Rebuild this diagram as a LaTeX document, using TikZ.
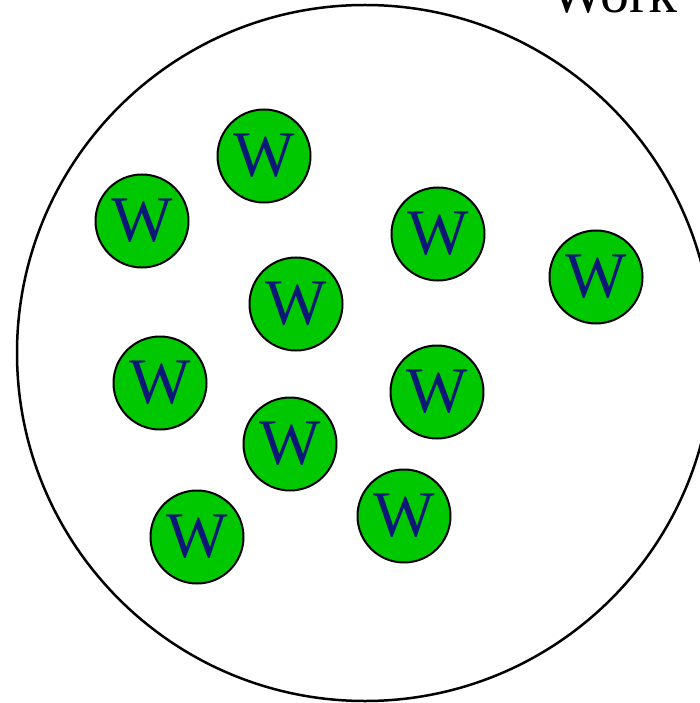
\documentclass[tikz,border=0pt]{standalone}
\usepackage{fontspec}
\setmainfont{Liberation Serif}
\definecolor{wgreen}{RGB}{0,200,0}
\definecolor{wblue}{RGB}{12,24,120}
\begin{document}
\begin{tikzpicture}[x=1pt,y=-1pt,
  worker/.style={circle,draw=black,line width=2pt,fill=wgreen,minimum size=93pt,inner sep=0pt,
    text=wblue,font=\fontsize{65}{65}\selectfont},
  pool/.style={circle,draw=black,line width=2.5pt,minimum size=696pt,inner sep=0pt}]
\path[use as bounding box] (0,0) rectangle (700,703);
\clip (0,0) rectangle (700,703);
\node[pool] (pool) at (365,353) {};
\node[anchor=base west,font=\fontsize{58}{58}\selectfont,inner sep=0pt] (title) at (550,13) {Work};
\node[worker] (w1) at (264,156) {W};
\node[worker] (w2) at (142,221) {W};
\node[worker] (w3) at (438,234) {W};
\node[worker] (w4) at (596,277) {W};
\node[worker] (w5) at (296,304) {W};
\node[worker] (w6) at (160,383) {W};
\node[worker] (w7) at (437,392) {W};
\node[worker] (w8) at (290,444) {W};
\node[worker] (w9) at (404,516) {W};
\node[worker] (w10) at (197,537) {W};
\end{tikzpicture}
\end{document}
